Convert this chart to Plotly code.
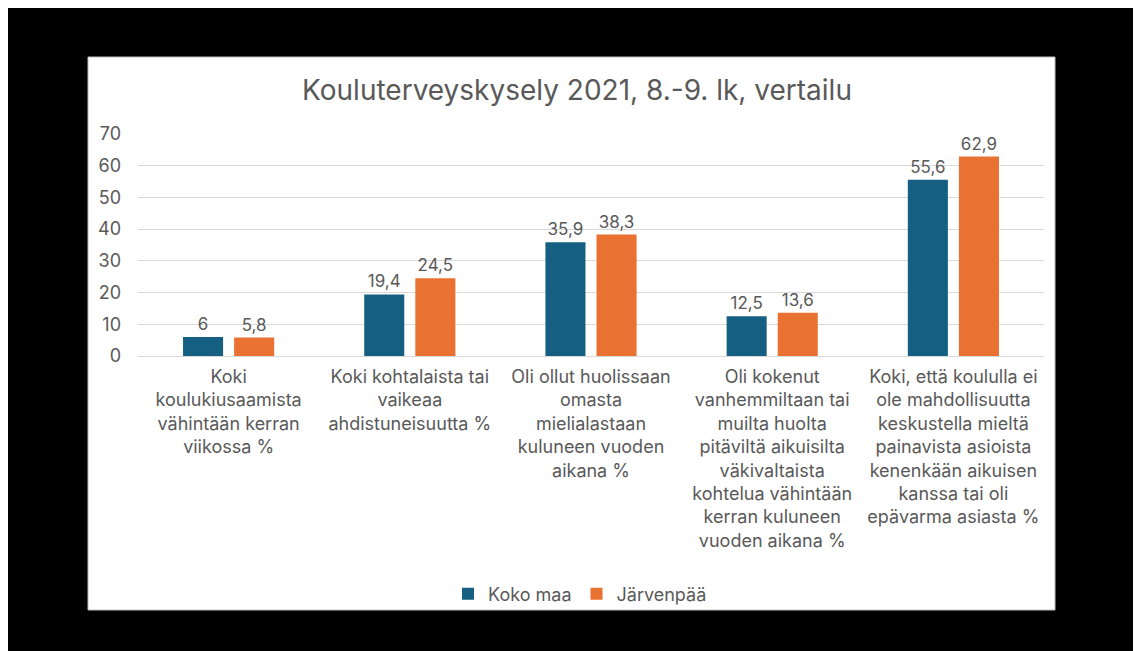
import plotly.graph_objects as go

categories = [
    "Koki<br>koulukiusaamista<br>vähintään kerran<br>viikossa %",
    "Koki kohtalaista tai<br>vaikeaa<br>ahdistuneisuutta %",
    "Oli ollut huolissaan<br>omasta<br>mielialastaan<br>kuluneen vuoden<br>aikana %",
    "Oli kokenut<br>vanhemmiltaan tai<br>muilta huolta<br>pitäviltä aikuisilta<br>väkivaltaista<br>kohtelua vähintään<br>kerran kuluneen<br>vuoden aikana %",
    "Koki, että koululla ei<br>ole mahdollisuutta<br>keskustella mieltä<br>painavista asioista<br>kenenkään aikuisen<br>kanssa tai oli<br>epävarma asiasta %",
]
koko_maa = [6, 19.4, 35.9, 12.5, 55.6]
jarvenpaa = [5.8, 24.5, 38.3, 13.6, 62.9]
series_names = ["Koko maa", "Järvenpää"]
colors = ["#156082", "#E97132"]

FONT = "Inter"
GREY = "#595959"

def fmt(v):
    return ("%g" % v).replace(".", ",")

xs = list(range(len(categories)))
fig = go.Figure()
for name, vals, col in zip(series_names, [koko_maa, jarvenpaa], colors):
    fig.add_trace(go.Bar(
        x=xs, y=vals, name=name, marker=dict(color=col, line=dict(width=0)),
        text=[fmt(v) for v in vals], textposition="outside",
        textfont=dict(family=FONT, size=17, color=GREY), cliponaxis=False,
    ))

W, H = 1133, 643
L, R, T, B = 130, 97, 126, 295
pw, ph = W - L - R, H - T - B

def px(x):
    return (x - L) / pw

def py(y):
    return (H - B - y) / ph

shapes = [
    dict(type="rect", xref="paper", yref="paper", x0=px(80), x1=px(1047), y0=py(602), y1=py(49),
         fillcolor="white", line=dict(width=1, color="#BFBFBF"), layer="below"),
]

fig.update_layout(
    width=W, height=H,
    margin=dict(l=L, r=R, t=T, b=B, autoexpand=False),
    paper_bgcolor="black", plot_bgcolor="white",
    shapes=shapes,
    barmode="group", bargap=0.436, bargroupgap=0.216,
    title=dict(text="Kouluterveyskysely 2021, 8.-9. lk, vertailu",
               font=dict(family=FONT, size=28, color=GREY),
               x=px(569), xref="paper", xanchor="center",
               y=1 - 82 / H, yanchor="middle"),
    font=dict(family=FONT, color=GREY),
    showlegend=True,
    legend=dict(orientation="h", x=px(572), xanchor="center", y=py(586), yanchor="middle",
                font=dict(family=FONT, size=18, color=GREY), bgcolor="rgba(0,0,0,0)",
                itemwidth=30, tracegroupgap=0),
    xaxis=dict(tickmode="array", tickvals=xs, ticktext=categories, range=[-0.5, 4.5],
               tickfont=dict(family=FONT, size=18, color=GREY), showgrid=False,
               showline=False, ticks="", ticklabelstandoff=8, fixedrange=True),
    yaxis=dict(range=[0, 70], dtick=10, tickfont=dict(family=FONT, size=18, color=GREY),
               gridcolor="#D9D9D9", gridwidth=1.3, zeroline=True, zerolinecolor="#D9D9D9",
               zerolinewidth=1.3, showline=False, ticklabelstandoff=16),
)

fig.write_html("out.html")
